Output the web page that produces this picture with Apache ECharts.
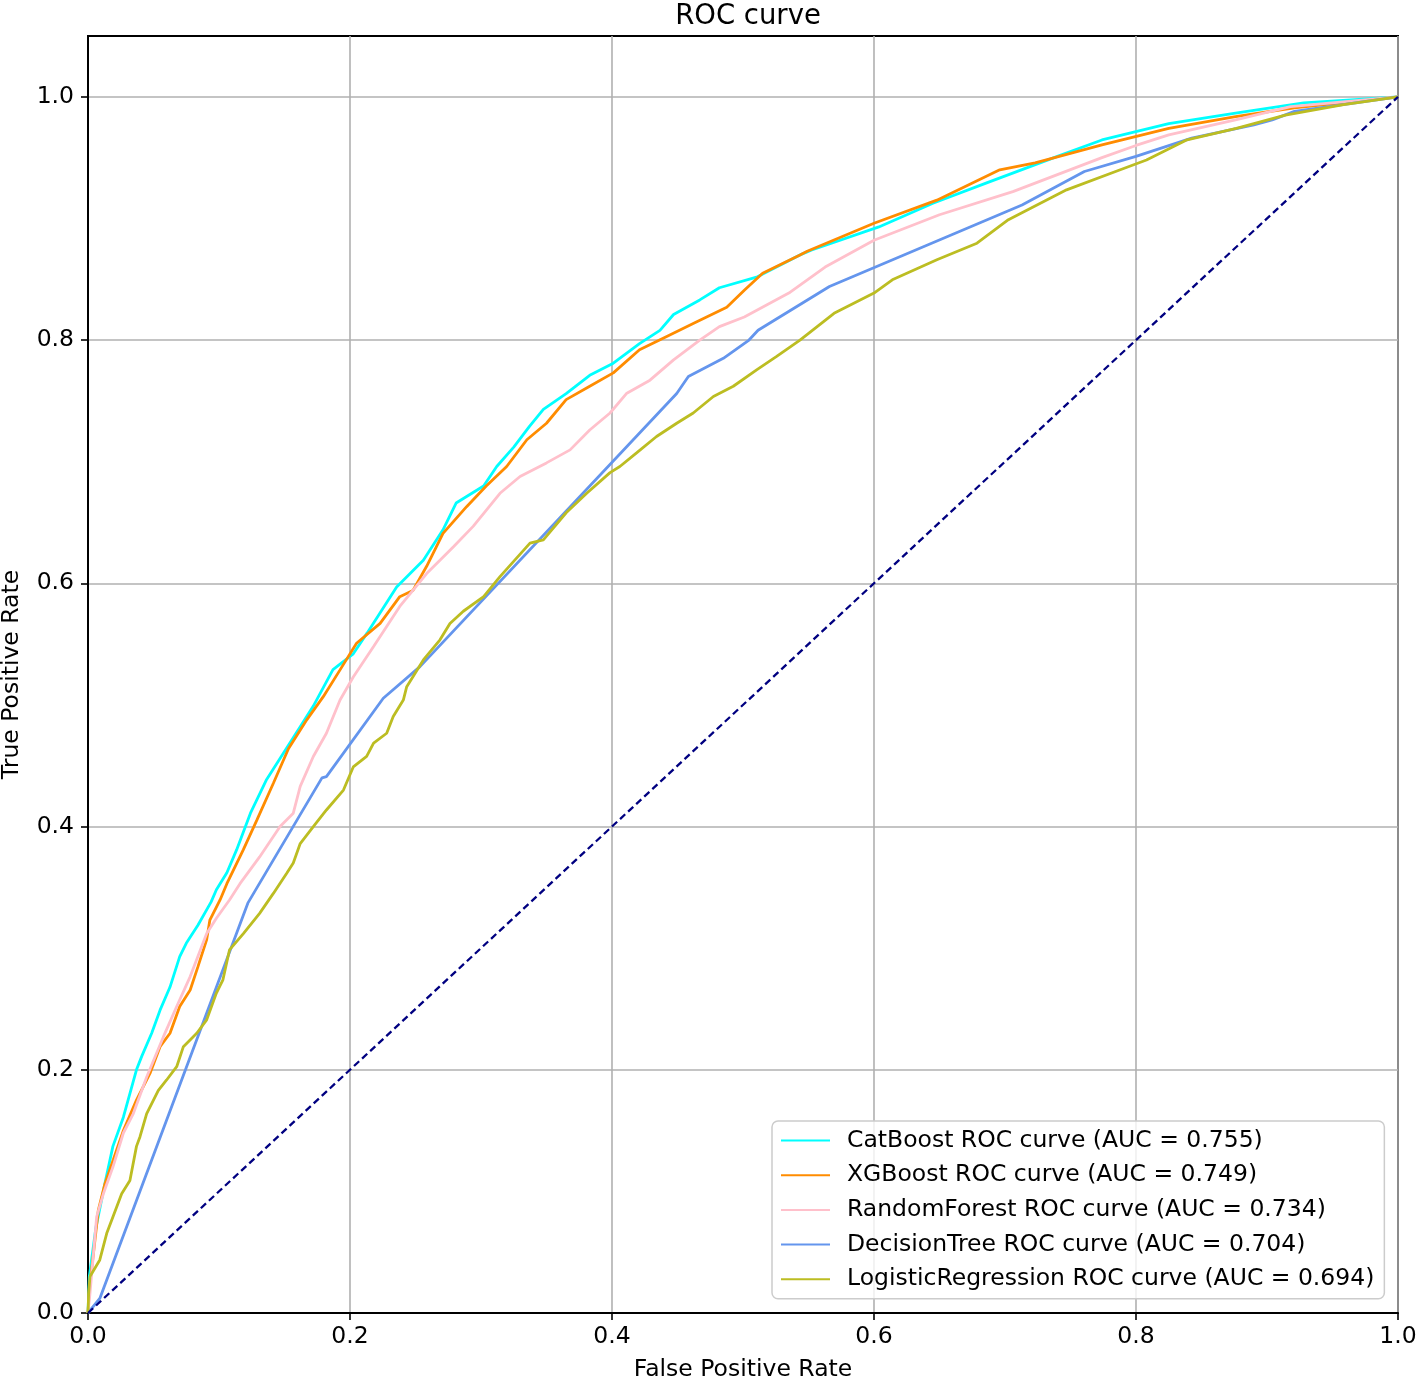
<!DOCTYPE html>
<html>
<head>
<meta charset="utf-8">
<script src="https://cdn.jsdelivr.net/npm/echarts@6/dist/echarts.min.js"></script>
<style>
html,body{margin:0;padding:0;background:#fff;}
#chart{width:1416px;height:1381px;}
</style>
</head>
<body>
<div id="chart"></div>
<script>
// ---- Data (FPR / TPR pairs) ----
const xTicks = [0, 0.2, 0.4, 0.6, 0.8, 1.0];
const yTicks = [0, 0.2, 0.4, 0.6, 0.8, 1.0];

const modelNames = [
  'CatBoost ROC curve (AUC = 0.755)',
  'XGBoost ROC curve (AUC = 0.749)',
  'RandomForest ROC curve (AUC = 0.734)',
  'DecisionTree ROC curve (AUC = 0.704)',
  'LogisticRegression ROC curve (AUC = 0.694)'
];

const catFpr = [0,0.001,0.006,0.013,0.019,0.027,0.037,0.041,0.0486,0.055,0.0626,0.070,0.075,0.084,0.094,0.098,0.106,0.1135,0.124,0.136,0.149,0.162,0.172,0.187,0.2025,0.213,0.2356,0.256,0.271,0.281,0.302,0.312,0.325,0.337,0.3476,0.365,0.383,0.401,0.421,0.4366,0.447,0.467,0.482,0.511,0.5435,0.5525,0.6037,0.645,0.6855,0.740,0.774,0.825,0.876,0.928,1];
const catTpr = [0,0.030,0.070,0.107,0.137,0.161,0.200,0.211,0.230,0.249,0.268,0.293,0.304,0.319,0.338,0.348,0.362,0.381,0.411,0.438,0.460,0.482,0.499,0.529,0.542,0.559,0.597,0.619,0.644,0.666,0.680,0.696,0.712,0.729,0.743,0.756,0.771,0.781,0.797,0.808,0.821,0.833,0.843,0.852,0.870,0.874,0.893,0.9125,0.929,0.951,0.9645,0.978,0.9866,0.995,1];

const xgbFpr = [0,0.001,0.003,0.0079,0.013,0.0193,0.027,0.037,0.0473,0.055,0.0626,0.070,0.078,0.084,0.0906,0.093,0.1008,0.106,0.1186,0.1288,0.1415,0.153,0.167,0.1796,0.1924,0.205,0.223,0.238,0.248,0.2585,0.271,0.289,0.304,0.3196,0.335,0.350,0.365,0.383,0.401,0.421,0.4418,0.462,0.4876,0.501,0.515,0.5435,0.549,0.600,0.648,0.696,0.723,0.774,0.825,0.876,0.921,1];
const xgbTpr = [0,0.020,0.038,0.0847,0.1066,0.126,0.150,0.175,0.197,0.219,0.230,0.252,0.2656,0.285,0.307,0.323,0.3396,0.353,0.381,0.405,0.4356,0.464,0.4877,0.5068,0.5288,0.5507,0.567,0.589,0.594,0.614,0.641,0.663,0.680,0.696,0.718,0.7316,0.751,0.762,0.773,0.792,0.803,0.8136,0.827,0.841,0.855,0.870,0.873,0.896,0.915,0.940,0.9456,0.9605,0.974,0.9838,0.991,1];

const rfFpr = [0,0.0015,0.0066,0.0117,0.019,0.027,0.0346,0.0448,0.0575,0.0677,0.078,0.0906,0.098,0.108,0.116,0.131,0.1466,0.1567,0.162,0.172,0.182,0.1924,0.2025,0.218,0.238,0.2585,0.279,0.294,0.3145,0.3298,0.350,0.368,0.383,0.3985,0.411,0.429,0.447,0.467,0.482,0.501,0.535,0.5627,0.600,0.650,0.706,0.774,0.800,0.825,0.876,0.918,1];
const rfTpr = [0,0.016,0.079,0.098,0.120,0.148,0.164,0.194,0.227,0.252,0.2766,0.312,0.3246,0.3396,0.353,0.375,0.400,0.411,0.433,0.4576,0.4767,0.504,0.523,0.548,0.581,0.608,0.630,0.6468,0.674,0.6878,0.699,0.7097,0.726,0.740,0.756,0.767,0.7837,0.800,0.811,0.819,0.8386,0.860,0.882,0.903,0.922,0.950,0.960,0.9687,0.981,0.992,1];

const dtFpr = [0,0.009,0.122,0.1786,0.182,0.2254,0.2534,0.4494,0.4583,0.485,0.5046,0.5115,0.566,0.713,0.7606,0.800,0.8425,0.890,0.904,0.921,1];
const dtTpr = [0,0.012,0.337,0.440,0.441,0.5055,0.5315,0.756,0.770,0.785,0.800,0.808,0.844,0.911,0.9386,0.951,0.966,0.977,0.981,0.988,1];

const lrFpr = [0,0.0005,0.0015,0.009,0.0143,0.019,0.0257,0.032,0.037,0.0397,0.0448,0.0537,0.060,0.0677,0.0728,0.083,0.0906,0.098,0.103,0.108,0.1186,0.131,0.1415,0.1517,0.1567,0.162,0.172,0.182,0.195,0.2025,0.2127,0.218,0.228,0.233,0.2407,0.2433,0.256,0.2687,0.2763,0.2865,0.302,0.3145,0.3374,0.3476,0.365,0.3807,0.3985,0.406,0.419,0.434,0.4494,0.462,0.4774,0.4926,0.5104,0.5257,0.5435,0.5695,0.600,0.614,0.648,0.6786,0.7026,0.747,0.788,0.808,0.839,0.8766,0.914,0.9585,1];
const lrTpr = [0,0.016,0.030,0.0436,0.0655,0.079,0.098,0.109,0.137,0.145,0.164,0.183,0.1916,0.2025,0.219,0.230,0.241,0.263,0.274,0.2985,0.312,0.3286,0.345,0.3616,0.370,0.386,0.400,0.4136,0.430,0.449,0.4576,0.4685,0.4767,0.4905,0.504,0.515,0.537,0.5535,0.567,0.577,0.589,0.6055,0.633,0.6357,0.658,0.674,0.691,0.696,0.7074,0.7207,0.7316,0.740,0.7536,0.762,0.7755,0.7866,0.800,0.822,0.8386,0.8495,0.866,0.8796,0.899,0.9235,0.940,0.948,0.9646,0.974,0.985,0.9935,1];

const chanceFpr = [0, 1];
const chanceTpr = [0, 1];

const colors = ['#00ffff', '#ff8c00', '#ffc0cb', '#6495ed', '#bcbd22'];

function pairs(xs, ys) { return xs.map((x, i) => [x, ys[i]]); }

const curves = [
  [catFpr, catTpr], [xgbFpr, xgbTpr], [rfFpr, rfTpr], [dtFpr, dtTpr], [lrFpr, lrTpr]
];

const FONT = 'DejaVu Sans';
const chart = echarts.init(document.getElementById('chart'), null, {renderer: 'canvas'});

const series = curves.map((c, i) => ({
  name: modelNames[i],
  type: 'line',
  data: pairs(c[0], c[1]),
  symbol: 'none',
  showSymbol: false,
  smooth: false,
  animation: false,
  lineStyle: {color: colors[i], width: 2.8},
  itemStyle: {color: colors[i]},
  z: 3 + i
}));
series.push({
  name: 'chance',
  type: 'line',
  data: pairs(chanceFpr, chanceTpr),
  symbol: 'none',
  animation: false,
  lineStyle: {color: '#000080', width: 2.3, type: [7, 4]},
  z: 10
});

chart.setOption({
  animation: false,
  backgroundColor: '#ffffff',
  title: {
    text: 'ROC curve',
    left: 743,
    textAlign: 'center',
    top: -2,
    textStyle: {fontFamily: FONT, fontSize: 27.5, fontWeight: 'normal', color: '#000'}
  },
  grid: {
    left: 88, right: 18, top: 36, bottom: 68,
    containLabel: false,
    outerBoundsMode: 'none',
    show: true, borderColor: '#000', borderWidth: 2, backgroundColor: 'transparent'
  },
  legend: {
    data: modelNames,
    orient: 'vertical',
    left: 772,
    top: 1121,
    padding: [6, 10, 6, 9],
    itemGap: 7.7,
    itemWidth: 49,
    itemHeight: 14,
    backgroundColor: 'rgba(255,255,255,0.8)',
    borderColor: '#cccccc',
    borderWidth: 1.5,
    borderRadius: 6,
    icon: 'path://M0,6 L49,6 L49,8 L0,8 Z',
    textStyle: {fontFamily: FONT, fontSize: 23.5, color: '#000', lineHeight: 27, padding: [0, 0, 0, 12]}
  },
  xAxis: {
    type: 'value',
    min: 0, max: 1, interval: 0.2,
    name: 'False Positive Rate',
    nameLocation: 'middle',
    nameGap: 45,
    nameTextStyle: {fontFamily: FONT, fontSize: 23.5, color: '#000'},
    axisLine: {show: true, lineStyle: {color: '#000', width: 2}},
    axisTick: {show: true, inside: false, length: 7, lineStyle: {color: '#000', width: 1.6}},
    axisLabel: {fontFamily: FONT, fontSize: 23.5, color: '#000', margin: 12,
      formatter: v => v.toFixed(1)},
    splitLine: {show: true, lineStyle: {color: '#b0b0b0', width: 1.6}}
  },
  yAxis: {
    type: 'value',
    min: 0, max: 1.05, interval: 0.2,
    name: 'True Positive Rate',
    nameLocation: 'middle',
    nameGap: 64,
    nameTextStyle: {fontFamily: FONT, fontSize: 23.5, color: '#000'},
    axisLine: {show: true, lineStyle: {color: '#000', width: 2}},
    axisTick: {show: true, inside: false, length: 7, customValues: yTicks, lineStyle: {color: '#000', width: 1.6}},
    axisLabel: {fontFamily: FONT, fontSize: 23.5, color: '#000', margin: 14, customValues: yTicks,
      formatter: v => (v > 1.001 ? '' : v.toFixed(1))},
    splitLine: {show: true, lineStyle: {color: '#b0b0b0', width: 1.6}}
  },
  series: series
});
</script>
</body>
</html>
